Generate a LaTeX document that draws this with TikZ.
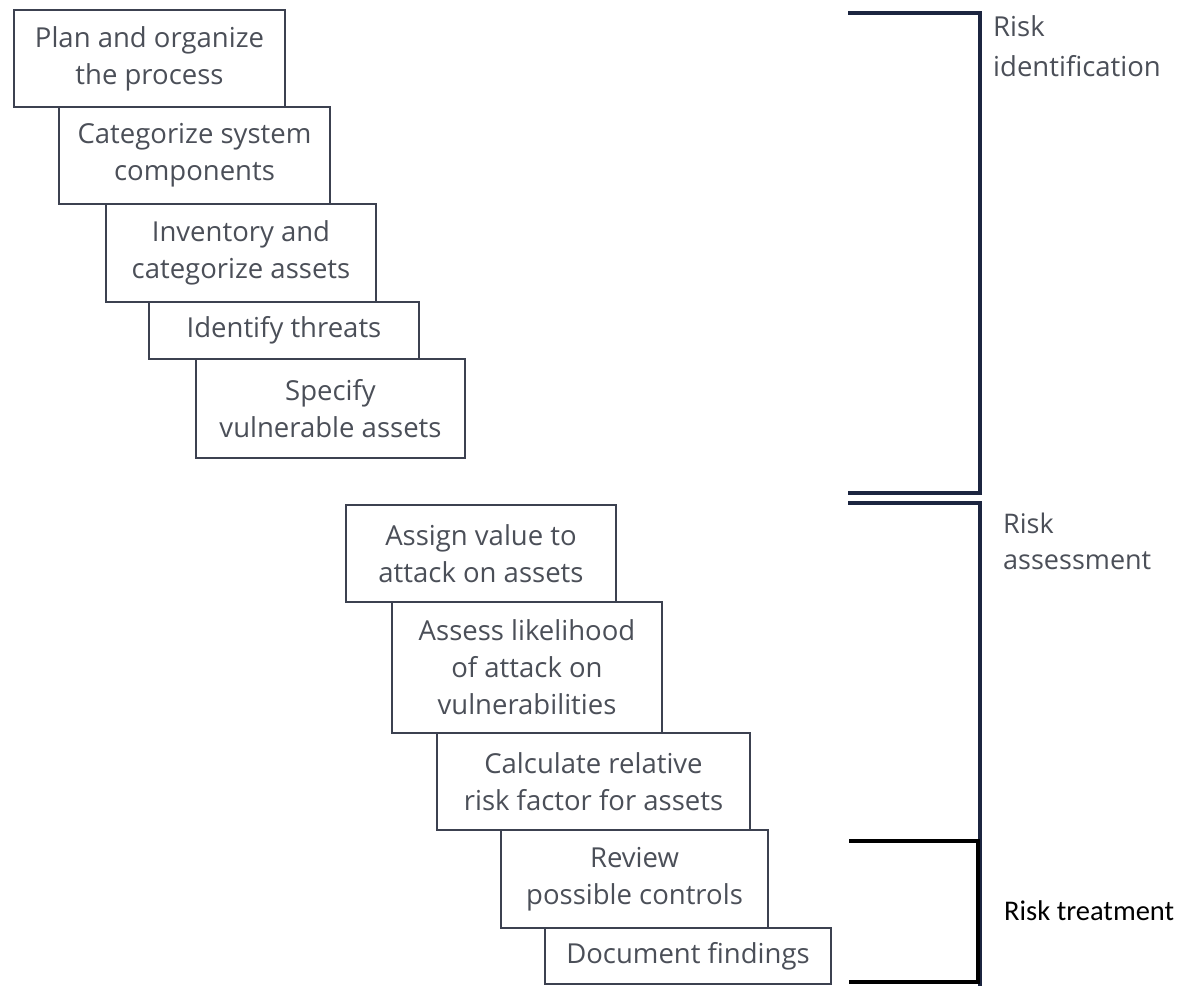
\documentclass[tikz,border=0pt]{standalone}
\usepackage{fontspec}
\setmainfont{Open Sans}
\newfontfamily\calfont{Carlito}
\definecolor{boxline}{HTML}{3C4150}
\definecolor{boxtext}{HTML}{4B4F58}
\definecolor{brack}{HTML}{1C2540}
\begin{document}
\begin{tikzpicture}[x=1pt,y=-1pt,
  stepbox/.style={draw=boxline, line width=2pt, inner sep=0pt, align=center,
    text=boxtext, font=\fontsize{27.5}{37}\selectfont},
  bracketline/.style={draw=brack, line width=3.5pt},
  treatline/.style={draw=black, line width=4pt},
  phaselabel/.style={anchor=north west, inner sep=0pt, align=left, text=boxtext,
    font=\fontsize{27.5}{40}\selectfont}
]
\useasboundingbox (0,0) rectangle (1182,986);
\newcommand\stepnode[6]{%
  \node[stepbox, minimum width={#4-#3}, minimum height={#6-#5}] (#1) at ({(#3+#4)/2},{(#5+#6)/2}) {#2};}
\stepnode{plan}{Plan and organize\\the process}{14}{285}{10}{107}
\stepnode{cat}{Categorize system\\components}{59}{330}{107}{204}
\stepnode{inv}{Inventory and\\categorize assets}{106}{376}{204}{302}
\stepnode{thr}{Identify threats}{149}{419}{302}{359}
\stepnode{spec}{Specify\\vulnerable assets}{196}{465}{359}{458}
\stepnode{assign}{Assign value to\\attack on assets}{346}{616}{505}{602}
\stepnode{assess}{Assess likelihood\\of attack on\\vulnerabilities}{392}{662}{602}{733}
\stepnode{calc}{Calculate relative\\risk factor for assets}{437}{750}{733}{830}
\stepnode{rev}{Review\\possible controls}{501}{768}{830}{928}
\stepnode{doc}{Document findings}{545}{831}{928}{984}

\coordinate (b1a) at (848,13);
\coordinate (b1b) at (980,13);
\coordinate (b1c) at (980,493);
\coordinate (b1d) at (848,493);
\draw[bracketline] (b1a) -- (b1b) -- (b1c) -- (b1d);
\coordinate (b2a) at (848,503);
\coordinate (b2b) at (980,503);
\coordinate (b2c) at (980,986);
\draw[bracketline] (b2a) -- (b2b) -- (b2c);
\coordinate (b3a) at (849,841);
\coordinate (b3b) at (978,841);
\coordinate (b3c) at (978,982);
\coordinate (b3d) at (849,982);
\draw[treatline] (b3a) -- (b3b) -- (b3c) -- (b3d);

\node[phaselabel] (lid) at (993,15) {Risk\\identification};
\node[phaselabel, font=\fontsize{27}{36}\selectfont] (las) at (1003,513) {Risk\\assessment};
\node[anchor=base west, inner sep=0pt, font=\calfont\fontsize{28.5}{30}\selectfont] (ltr) at (1004,920) {Risk treatment};
\end{tikzpicture}
\end{document}
